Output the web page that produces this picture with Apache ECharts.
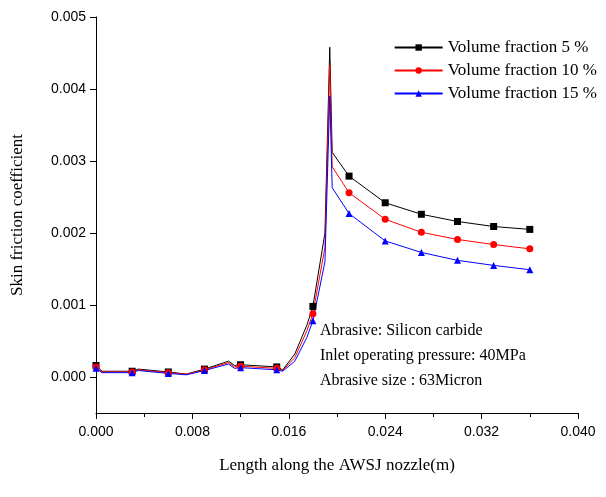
<!DOCTYPE html>
<html><head><meta charset="utf-8">
<script src="https://cdn.jsdelivr.net/npm/echarts@6/dist/echarts.min.js"></script>
<style>html,body{margin:0;background:#fff}#main{width:606px;height:497px}</style>
</head><body><div id="main"></div>
<script>
  // x positions along the nozzle (m)
  var xs = [0, 0.0005, 0.003, 0.0035, 0.006, 0.0075, 0.009, 0.011, 0.0115, 0.012, 0.015, 0.0155, 0.0165, 0.0175, 0.018, 0.019, 0.0194, 0.0196, 0.021, 0.024, 0.027, 0.030, 0.033, 0.036];
  var vf5  = [0.00016, 0.00008, 0.00008, 0.00011, 0.00007, 0.00004, 0.00011, 0.00022, 0.00016, 0.00017, 0.00014, 0.00010, 0.00032, 0.00072, 0.00098, 0.0020, 0.00458, 0.00312, 0.00279, 0.00242, 0.00226, 0.00216, 0.00209, 0.00205];
  var vf10 = [0.00014, 0.00007, 0.00007, 0.00010, 0.00006, 0.00004, 0.00010, 0.00020, 0.00014, 0.00015, 0.00012, 0.00009, 0.00027, 0.00064, 0.00088, 0.0018, 0.00433, 0.00292, 0.00256, 0.00219, 0.00201, 0.00191, 0.00184, 0.00178];
  var vf15 = [0.00012, 0.00006, 0.00006, 0.00009, 0.00005, 0.00003, 0.00009, 0.00018, 0.00012, 0.00013, 0.00010, 0.00008, 0.00022, 0.00055, 0.00078, 0.0016, 0.00390, 0.00263, 0.00227, 0.00189, 0.00173, 0.00162, 0.00155, 0.00149];
  var yTicks = [0, 0.001, 0.002, 0.003, 0.004, 0.005];
  var names = ['Volume fraction 5 %', 'Volume fraction 10 %', 'Volume fraction 15 %'];
  var colors = ['#000000', '#ff0000', '#0000ff'];
  var symbols = ['rect', 'circle', 'triangle'];
  var serif = 'Liberation Serif';
  var sans = 'Liberation Sans';

  function build(ys) {
    return xs.map(function (x, i) {
      var marked = Math.round(x * 1e6) % 3000 === 0;
      return { value: [x, ys[i]], symbol: marked ? undefined : 'none' };
    });
  }

  var myChart = echarts.init(document.getElementById('main'));
  var option = {
    animation: false,
    grid: { left: 96, right: 28, top: 17, bottom: 84 },
    legend: {
      right: 4, top: 34, orient: 'vertical', itemGap: 6, itemWidth: 48, itemHeight: 8,
      textStyle: { fontFamily: serif, fontSize: 17, color: '#000' },
      data: names
    },
    xAxis: {
      type: 'value', min: 0, max: 0.04, interval: 0.008,
      name: 'Length along the AWSJ nozzle(m)', nameLocation: 'middle', nameGap: 44,
      nameTextStyle: { fontFamily: serif, fontSize: 17, color: '#000' },
      axisLine: { onZero: false, lineStyle: { color: '#000' } },
      axisTick: { show: true, length: 6, lineStyle: { color: '#000' } },
      minorTick: { show: true, splitNumber: 2, length: 4, lineStyle: { color: '#000' } },
      splitLine: { show: false },
      axisLabel: { margin: 12, fontFamily: sans, fontSize: 14, color: '#000', formatter: function (v) { return v.toFixed(3); } }
    },
    yAxis: {
      type: 'value', min: -0.0005, max: 0.005,
      name: 'Skin friction coefficient', nameLocation: 'middle', nameGap: 70,
      nameTextStyle: { fontFamily: serif, fontSize: 17, color: '#000' },
      axisLine: { show: true, onZero: false, lineStyle: { color: '#000' } },
      axisTick: { show: true, length: 6, customValues: yTicks, lineStyle: { color: '#000' } },
      splitLine: { show: false },
      axisLabel: { margin: 10, customValues: yTicks, fontFamily: sans, fontSize: 14, color: '#000', formatter: function (v) { return v.toFixed(3); } }
    },
    graphic: [{
      type: 'text', left: 320, top: 318,
      style: {
        text: 'Abrasive: Silicon carbide\nInlet operating pressure: 40MPa\nAbrasive size : 63Micron',
        fontFamily: serif, fontSize: 16, lineHeight: 25, fill: '#000'
      }
    }],
    series: [vf5, vf10, vf15].map(function (ys, i) {
      return {
        name: names[i], type: 'line', data: build(ys),
        symbol: symbols[i], symbolSize: 7, showAllSymbol: true,
        itemStyle: { color: colors[i] }, lineStyle: { color: colors[i], width: 1 }
      };
    })
  };
  myChart.setOption(option);
</script></body></html>
